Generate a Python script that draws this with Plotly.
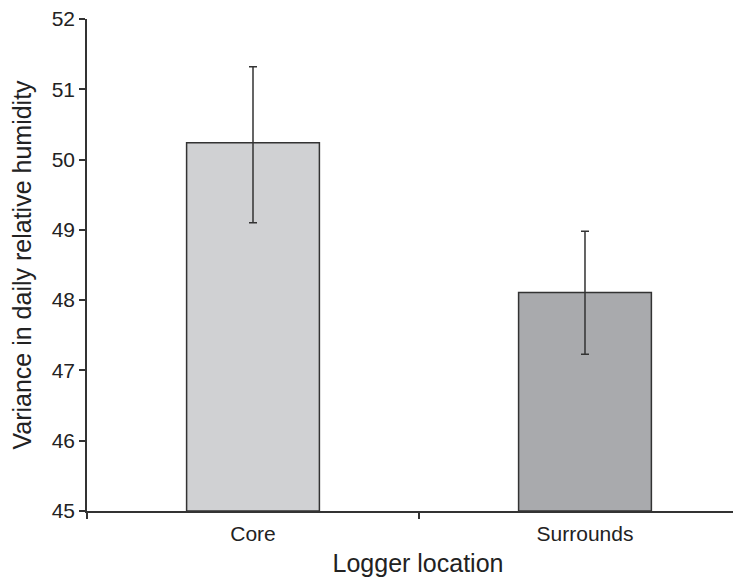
import plotly.graph_objects as go

categories = ["Core", "Surrounds"]
means = [50.24, 48.11]
err_plus = [1.08, 0.87]
err_minus = [1.14, 0.88]
bar_colors = ["#d0d1d3", "#a9aaad"]
y_ticks = [45, 46, 47, 48, 49, 50, 51, 52]

fig = go.Figure()
fig.add_trace(go.Bar(
    x=categories, y=[m - 45 for m in means], base=45,
    width=0.4,
    marker=dict(color=bar_colors, line=dict(color="#333333", width=1.5)),
    error_y=dict(type="data", symmetric=False, array=err_plus, arrayminus=err_minus,
                 color="#333333", thickness=1.5, width=4),
    showlegend=False,
))

fig.update_layout(
    width=741, height=578,
    margin=dict(l=79, r=0, t=11, b=75, autoexpand=False),
    paper_bgcolor="white", plot_bgcolor="white",
    font=dict(family="Liberation Sans, Arial, sans-serif", color="#222222"),
    xaxis=dict(
        type="category", range=[-0.5, 1.494],
        showline=True, linecolor="#333333", linewidth=1.5,
        ticks="outside", tickson="boundaries", ticklen=6, tickcolor="#333333", tickwidth=1.5,
        showgrid=False, tickfont=dict(size=21), ticklabelstandoff=3,
        title=dict(text="Logger location", font=dict(size=25), standoff=11),
        automargin=False,
    ),
    yaxis=dict(
        range=[45, 52], tickvals=y_ticks,
        showline=True, linecolor="#333333", linewidth=1.5,
        ticks="outside", ticklen=6, tickcolor="#333333", tickwidth=1.5,
        showgrid=False, zeroline=False, tickfont=dict(size=21),
        ticklabeloverflow="allow",
        title=dict(text="Variance in daily relative humidity", font=dict(size=25), standoff=23),
        automargin=False,
    ),
)

fig.write_html("out.html")
